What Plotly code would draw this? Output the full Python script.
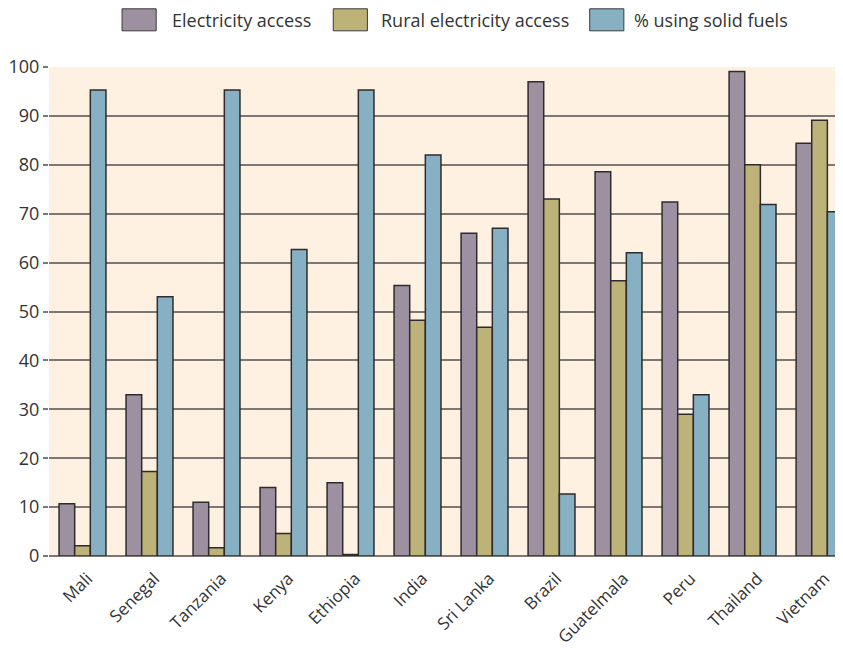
import plotly.graph_objects as go

countries = ["Mali", "Senegal", "Tanzania", "Kenya", "Ethiopia", "India", "Sri Lanka",
             "Brazil", "Guatelmala", "Peru", "Thailand", "Vietnam"]
electricity = [10.7, 33.0, 11.0, 14.0, 15.0, 55.3, 66.0, 97.0, 78.6, 72.4, 99.1, 84.4]
rural = [2.1, 17.3, 1.7, 4.6, 0.3, 48.2, 46.8, 73.0, 56.3, 29.0, 80.0, 89.1]
solid_fuels = [95.3, 53.0, 95.3, 62.7, 95.3, 82.0, 67.0, 12.7, 62.0, 33.0, 71.9, 70.4]

names = ["Electricity access", "Rural electricity access", "% using solid fuels"]
colors = ["#9d90a1", "#bdb277", "#88b0c3"]
outline = "#2e2b2e"

fig = go.Figure()
for name, vals, col in zip(names, [electricity, rural, solid_fuels], colors):
    fig.add_trace(go.Bar(x=countries, y=vals, name=name, showlegend=False,
                         marker=dict(color=col, line=dict(color=outline, width=1.5))))

# custom legend (large swatches like the reference)
swatch_x = [(0.092, 0.135), (0.358, 0.401), (0.681, 0.724)]
text_x = [0.152, 0.416, 0.734]
for name, col, (x0, x1), tx in zip(names, colors, swatch_x, text_x):
    fig.add_shape(type="rect", xref="paper", yref="paper", x0=x0, x1=x1,
                  y0=1.074, y1=1.119, fillcolor=col,
                  line=dict(color="#3a3a3a", width=1))
    fig.add_annotation(xref="paper", yref="paper", x=tx, y=1.0965, text=name,
                       showarrow=False, xanchor="left", yanchor="middle",
                       font=dict(size=18, color="#333333"))

fig.update_layout(
    width=835, height=640,
    barmode="group", bargap=0.3, bargroupgap=0,
    paper_bgcolor="white", plot_bgcolor="#fef1e1",
    margin=dict(l=41, r=0, t=59, b=92, autoexpand=False),
    font=dict(family="Open Sans, Noto Sans, sans-serif", size=17, color="#333333"),
    showlegend=False,
)
fig.update_xaxes(range=[-0.5, 11.35], tickangle=-45, showgrid=False, automargin=False,
                 ticks="outside", ticklen=5, tickcolor="rgba(0,0,0,0)",
                 ticklabelshift=5,
                 tickfont=dict(size=17), showline=False)
fig.update_yaxes(range=[0, 100], dtick=10, showgrid=True, gridcolor="#7d7774",
                 gridwidth=1.5, zeroline=True, zerolinecolor="#7d7774", zerolinewidth=2,
                 ticks="outside", ticklen=5, tickcolor="#7d7774", tickwidth=1.5,
                 tickfont=dict(size=18), showline=False, automargin=False)

fig.write_html("out.html")
